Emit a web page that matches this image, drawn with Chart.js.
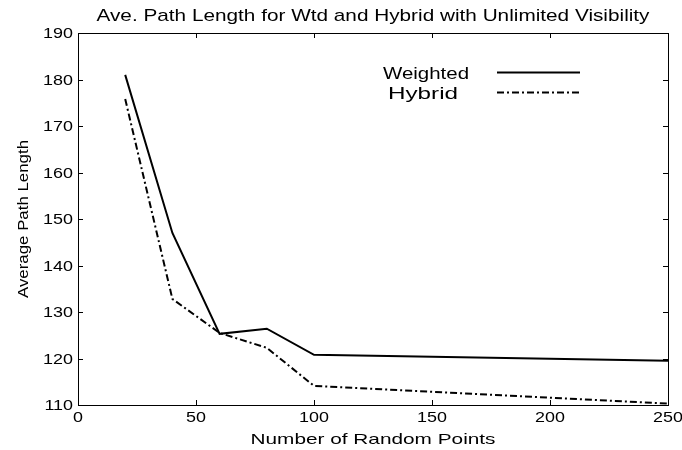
<!DOCTYPE html>
<html>
<head>
<meta charset="utf-8">
<script src="https://cdn.jsdelivr.net/npm/chart.js@4/dist/chart.umd.min.js"></script>
<style>
  html, body { margin: 0; padding: 0; background: #fff; }
  #wrap { width: 682px; height: 450px; position: relative; }
</style>
</head>
<body>
<div id="wrap"><canvas id="chart"></canvas></div>
<script>
const titleText = 'Ave. Path Length for Wtd and Hybrid with Unlimited Visibility';
const xTitle = 'Number of Random Points';
const yTitle = 'Average Path Length';

const randomPoints = [20, 40, 60, 80, 100, 250];
const weightedLength = [181, 147, 125.3, 126.4, 120.8, 119.5];
const hybridLength = [175.8, 132.8, 125.5, 122.3, 114.1, 110.3];

const font = '"Liberation Sans", Arial, Helvetica, sans-serif';

const toPoints = (xs, ys) => xs.map((x, i) => ({ x, y: ys[i] }));

// the reference text is horizontally stretched, so squeeze/stretch it to size
const drawText = (ctx, text, x, y, size, opts = {}) => {
    ctx.save();
    ctx.font = size + 'px ' + font;
    const w = ctx.measureText(text).width;
    const sx = opts.width ? opts.width / w : (opts.scale ?? 1);
    const align = opts.align ?? 'center';
    let left = x - (w * sx) / 2;
    if (align === 'right') left = x - w * sx;
    if (align === 'left') left = x;
    ctx.translate(left, y);
    if (opts.rotate) ctx.rotate(opts.rotate);
    ctx.scale(sx, 1);
    ctx.textAlign = 'left';
    ctx.textBaseline = 'alphabetic';
    ctx.fillText(text, 0, 0);
    ctx.restore();
};

const matlabFrame = {
    id: 'matlabFrame',
    afterDraw(chart) {
        const { ctx, chartArea: a, scales } = chart;
        const tick = 5;
        ctx.save();
        ctx.strokeStyle = '#000';
        ctx.fillStyle = '#000';
        ctx.lineWidth = 1;
        ctx.strokeRect(a.left + 0.5, a.top + 0.5, a.right - a.left, a.bottom - a.top);

        ctx.beginPath();
        scales.x.ticks.forEach((t) => {
            const px = Math.round(scales.x.getPixelForValue(t.value)) + 0.5;
            ctx.moveTo(px, a.bottom); ctx.lineTo(px, a.bottom - tick);
            ctx.moveTo(px, a.top); ctx.lineTo(px, a.top + tick);
        });
        scales.y.ticks.forEach((t) => {
            const py = Math.round(scales.y.getPixelForValue(t.value)) + 0.5;
            ctx.moveTo(a.left, py); ctx.lineTo(a.left + tick, py);
            ctx.moveTo(a.right, py); ctx.lineTo(a.right - tick, py);
        });
        ctx.stroke();

        // tick labels
        scales.x.ticks.forEach((t) => {
            const px = scales.x.getPixelForValue(t.value);
            drawText(ctx, String(t.value), px, a.bottom + 17, 14, { scale: 1.28 });
        });
        scales.y.ticks.forEach((t) => {
            const py = scales.y.getPixelForValue(t.value);
            drawText(ctx, String(t.value), a.left - 5, py + 5, 14, { scale: 1.28, align: 'right' });
        });

        const cx = (a.left + a.right) / 2;
        drawText(ctx, titleText, cx, 21, 17, { width: 553 });
        drawText(ctx, xTitle, cx, 444, 15, { width: 245 });

        // y title, rotated
        ctx.save();
        ctx.translate(28, (a.top + a.bottom) / 2);
        ctx.rotate(-Math.PI / 2);
        drawText(ctx, yTitle, 0, 0, 15, { width: 158 });
        ctx.restore();

        // legend
        const rows = [
            { label: 'Weighted', y: 72.5, textW: 86, cx: 426, ds: chart.data.datasets[0] },
            { label: 'Hybrid', y: 92.5, textW: 70, cx: 423, ds: chart.data.datasets[1] },
        ];
        rows.forEach((r) => {
            drawText(ctx, r.label, r.cx, r.y + 6, 16, { width: r.textW });
            ctx.beginPath();
            ctx.lineWidth = r.ds.borderWidth;
            ctx.setLineDash(r.ds.borderDash || []);
            ctx.moveTo(497, r.y);
            ctx.lineTo(580, r.y);
            ctx.stroke();
        });
        ctx.restore();
    },
};

new Chart(document.getElementById('chart'), {
    type: 'line',
    data: {
        datasets: [
            {
                label: 'Weighted',
                data: toPoints(randomPoints, weightedLength),
                borderColor: '#000',
                borderWidth: 2,
                pointRadius: 0,
                tension: 0,
            },
            {
                label: 'Hybrid',
                data: toPoints(randomPoints, hybridLength),
                borderColor: '#000',
                borderWidth: 2,
                borderDash: [7, 3, 2, 3],
                pointRadius: 0,
                tension: 0,
            },
        ],
    },
    options: {
        responsive: true,
        maintainAspectRatio: false,
        animation: false,
        layout: { padding: { top: 33, right: 14, left: 0, bottom: 0 } },
        scales: {
            x: {
                type: 'linear',
                min: 0,
                max: 250,
                grid: { display: false },
                border: { display: false },
                ticks: { stepSize: 50, display: false },
                afterFit: (scale) => { scale.height = 45; },
            },
            y: {
                min: 110,
                max: 190,
                grid: { display: false },
                border: { display: false },
                ticks: { stepSize: 10, display: false },
                afterFit: (scale) => { scale.width = 78; },
            },
        },
        plugins: {
            legend: { display: false },
            tooltip: { enabled: false },
        },
    },
    plugins: [matlabFrame],
});
</script>
</body>
</html>
